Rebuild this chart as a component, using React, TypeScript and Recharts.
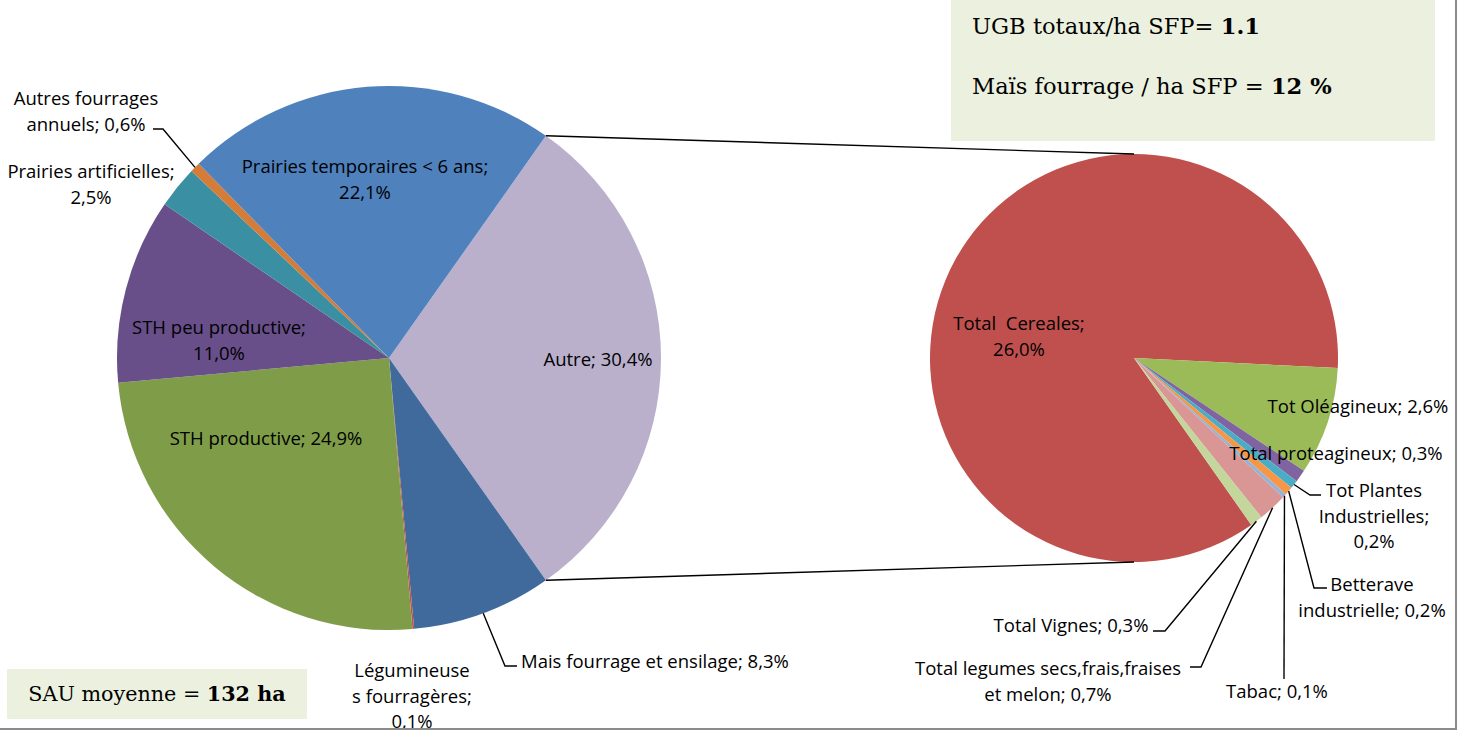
import React from 'react';
import { PieChart, Pie, Cell } from 'recharts';

// ---------- DATA ----------
const mainCategories = [
  'Autre',
  'Mais fourrage et ensilage',
  'Légumineuses fourragères',
  'STH productive',
  'STH peu productive',
  'Prairies artificielles',
  'Autres fourrages annuels',
  'Prairies temporaires < 6 ans',
];
const mainValues = [30.4, 8.3, 0.1, 24.9, 11.0, 2.5, 0.6, 22.1];
const mainColors = ['#BAB0CC', '#406A9C', '#C0504D', '#7F9D48', '#684F89', '#3A90A2', '#D47C38', '#4F81BD'];

const detailCategories = [
  'Total  Cereales',
  'Tot Oléagineux',
  'Total proteagineux',
  'Tot Plantes Industrielles',
  'Betterave industrielle',
  'Tabac',
  'Total legumes secs,frais,fraises et melon',
  'Total Vignes',
];
const detailValues = [26.0, 2.6, 0.3, 0.2, 0.2, 0.1, 0.7, 0.3];
const detailColors = ['#C0504D', '#9BBB59', '#8064A2', '#4BACC6', '#F79646', '#95B3D7', '#D99694', '#C3D69B'];

// label line breaks ({v} = formatted value)
const mainLabelLines = [
  ['Autre; {v}'],
  ['Mais fourrage et ensilage; {v}'],
  ['Légumineuse', 's fourragères;', '{v}'],
  ['STH productive; {v}'],
  ['STH peu productive;', '{v}'],
  ['Prairies artificielles;', '{v}'],
  ['Autres fourrages', 'annuels; {v}'],
  ['Prairies temporaires < 6 ans;', '{v}'],
];
const detailLabelLines = [
  ['Total  Cereales;', '{v}'],
  ['Tot Oléagineux; {v}'],
  ['Total proteagineux; {v}'],
  ['Tot Plantes', 'Industrielles;', '{v}'],
  ['Betterave', 'industrielle; {v}'],
  ['Tabac; {v}'],
  ['Total legumes secs,frais,fraises', 'et melon; {v}'],
  ['Total Vignes; {v}'],
];

const infoTop = [
  { text: 'UGB totaux/ha SFP= ', bold: '1.1' },
  { text: 'Maïs fourrage / ha SFP = ', bold: '12 %' },
];
const infoBottom = { text: 'SAU moyenne = ', bold: '132 ha' };

// ---------- LAYOUT ----------
const W = 1465;
const H = 733;
const LCX = 389, LCY = 358, LR = 272;
const RCX = 1134, RCY = 358, RR = 204;
const LINE_H = 25.5;
const FONT = "'Open Sans', 'Noto Sans', sans-serif";
const FONT_SIZE = 18.5;
const SERIF = "'DejaVu Serif', 'Liberation Serif', serif";

type Place = { x: number; y: number; anchor?: 'start' | 'middle' | 'end'; elbow?: number[][] };

const mainPlaces: Place[] = [
  { x: 598, y: 358 },
  { x: 521, y: 660, anchor: 'start', elbow: [[505, 666], [517, 666]] },
  { x: 412, y: 669 },
  { x: 266, y: 437 },
  { x: 219, y: 326 },
  { x: 91, y: 170 },
  { x: 86, y: 97, elbow: [[163, 129], [153, 129]] },
  { x: 365, y: 165 },
];
const detailPlaces: Place[] = [
  { x: 1019, y: 322 },
  { x: 1358, y: 405 },
  { x: 1336, y: 452 },
  { x: 1374, y: 489, elbow: [[1310, 495], [1321, 495]] },
  { x: 1372, y: 583, elbow: [[1314, 588], [1327, 588]] },
  { x: 1277, y: 690, elbow: [[1284, 679]] },
  { x: 1048, y: 667, elbow: [[1201, 667], [1190, 667]] },
  { x: 1071, y: 624, elbow: [[1165, 631], [1153, 631]] },
];

const fmt = (v: number) => v.toFixed(1).replace('.', ',') + '%';

const toData = (cats: string[], vals: number[]) => cats.map((name, i) => ({ name, value: vals[i] }));
const mainData = toData(mainCategories, mainValues);
const detailData = toData(detailCategories, detailValues);

const sum = (a: number[]) => a.reduce((s, v) => s + v, 0);
// main pie: "Autre" slice centred on 3 o'clock, clockwise
const mainStart = (mainValues[0] / sum(mainValues)) * 180;
// detail pie: clockwise, cereales slice ends a little below 3 o'clock
const detailStart = -2.8 + (detailValues[0] / sum(detailValues)) * 360;

const RAD = Math.PI / 180;

const makeLabel = (places: Place[], lines: string[][], values: number[]) => (props: any) => {
  const { cx, cy, midAngle, outerRadius, index } = props;
  const p = places[index];
  const ls = lines[index].map((t) => t.replace('{v}', fmt(values[index])));
  const ax = cx + outerRadius * Math.cos(-midAngle * RAD);
  const ay = cy + outerRadius * Math.sin(-midAngle * RAD);
  const pts = p.elbow ? [[ax, ay], ...p.elbow] : null;
  return (
    <g key={'lbl' + index}>
      {pts && (
        <polyline
          points={pts.map((q) => q.join(',')).join(' ')}
          fill="none"
          stroke="#000"
          strokeWidth={1.4}
        />
      )}
      <text
        fontFamily={FONT}
        fontSize={FONT_SIZE}
        fill="#000"
        textAnchor={p.anchor || 'middle'}
        dominantBaseline="central"
      >
        {ls.map((t, i) => (
          <tspan key={i} x={p.x} y={p.y + i * LINE_H} style={{ whiteSpace: 'pre' }}>
            {t}
          </tspan>
        ))}
      </text>
    </g>
  );
};

export default function App() {
  const a1 = mainStart * RAD;
  const c1 = [LCX + LR * Math.cos(a1), LCY - LR * Math.sin(a1)];
  const c2 = [LCX + LR * Math.cos(-a1), LCY - LR * Math.sin(-a1)];
  return (
    <div style={{ position: 'absolute', left: 0, top: 0, width: W, height: H, background: '#fff' }}>
      <PieChart width={W} height={H} margin={{ top: 0, right: 0, bottom: 0, left: 0 }}>
        <Pie
          data={mainData}
          dataKey="value"
          nameKey="name"
          cx={LCX}
          cy={LCY}
          outerRadius={LR}
          startAngle={mainStart}
          endAngle={mainStart - 360}
          stroke="none"
          isAnimationActive={false}
          labelLine={false}
          label={makeLabel(mainPlaces, mainLabelLines, mainValues)}
        >
          {mainData.map((d, i) => (
            <Cell key={d.name} fill={mainColors[i]} />
          ))}
        </Pie>
        <Pie
          data={detailData}
          dataKey="value"
          nameKey="name"
          cx={RCX}
          cy={RCY}
          outerRadius={RR}
          startAngle={detailStart}
          endAngle={detailStart - 360}
          stroke="none"
          isAnimationActive={false}
          labelLine={false}
          label={makeLabel(detailPlaces, detailLabelLines, detailValues)}
        >
          {detailData.map((d, i) => (
            <Cell key={d.name} fill={detailColors[i]} />
          ))}
        </Pie>
      </PieChart>
      <svg
        width={W}
        height={H}
        style={{ position: 'absolute', left: 0, top: 0, pointerEvents: 'none' }}
      >
        <line x1={c1[0]} y1={c1[1]} x2={RCX} y2={RCY - RR} stroke="#000" strokeWidth={1.4} />
        <line x1={c2[0]} y1={c2[1]} x2={RCX} y2={RCY + RR} stroke="#000" strokeWidth={1.4} />
        <rect x={951} y={-2} width={484} height={143} fill="#EBF1DE" />
        {infoTop.map((t, i) => (
          <text
            key={i}
            x={972}
            y={26 + i * 60}
            fontFamily={SERIF}
            fontSize={22.6}
            fill="#000"
            dominantBaseline="central"
          >
            {t.text}
            <tspan fontWeight="bold">{t.bold}</tspan>
          </text>
        ))}
        <rect x={7} y={669} width={300} height={50} fill="#EBF1DE" />
        <text
          x={157}
          y={694}
          fontFamily={SERIF}
          fontSize={20.7}
          fill="#000"
          textAnchor="middle"
          dominantBaseline="central"
        >
          {infoBottom.text}
          <tspan fontWeight="bold">{infoBottom.bold}</tspan>
        </text>
        <rect x={-2} y={-2} width={1458} height={731} fill="none" stroke="#8C8C8C" strokeWidth={2} />
      </svg>
    </div>
  );
}
